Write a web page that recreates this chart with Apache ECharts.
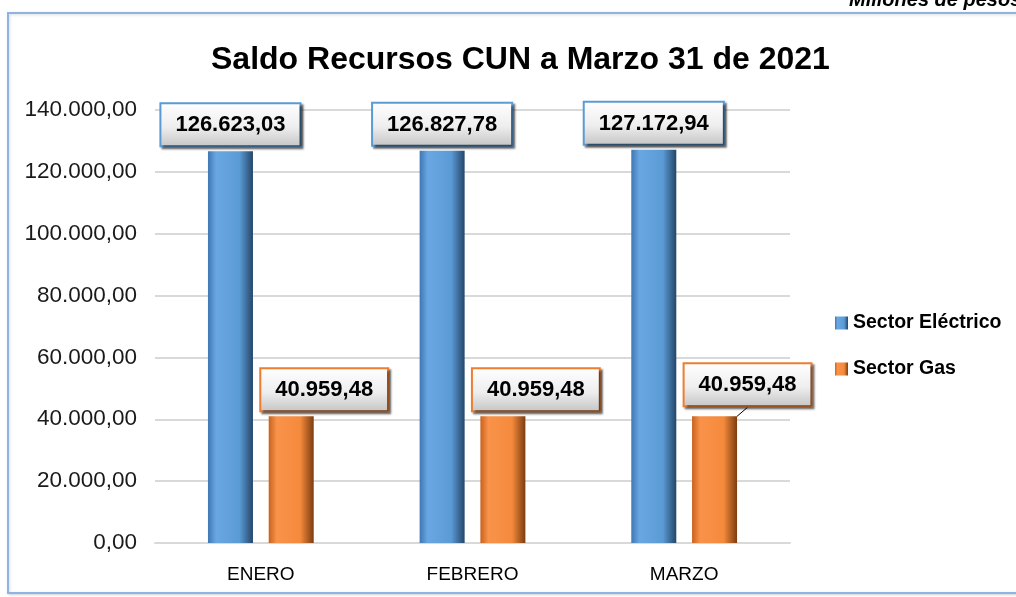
<!DOCTYPE html>
<html>
<head>
<meta charset="utf-8">
<script src="https://cdn.jsdelivr.net/npm/echarts@6/dist/echarts.min.js"></script>
<style>
  html, body { margin: 0; padding: 0; background: #fff; }
  #chart { width: 1016px; height: 597px; }
</style>
</head>
<body>
<div id="chart"></div>
<script>
var months = ['ENERO', 'FEBRERO', 'MARZO'];
var sectorElectrico = [126623.03, 126827.78, 127172.94];
var sectorGas = [40959.48, 40959.48, 40959.48];
var yTicks = [0, 20000, 40000, 60000, 80000, 100000, 120000, 140000];

var FONT = '"Liberation Sans", Arial, sans-serif';

function fmtEs(v) {
    var parts = v.toFixed(2).split('.');
    parts[0] = parts[0].replace(/\B(?=(\d{3})+(?!\d))/g, '.');
    return parts[0] + ',' + parts[1];
}

function barGradient(c0, c1, c2, c3) {
    return {
        type: 'linear', x: 0, y: 0, x2: 1, y2: 0,
        colorStops: [
            { offset: 0, color: c0 },
            { offset: 0.18, color: c1 },
            { offset: 0.7, color: c2 },
            { offset: 1, color: c3 }
        ]
    };
}

var labelBg = {
    type: 'linear', x: 0, y: 0, x2: 0, y2: 1,
    colorStops: [
        { offset: 0, color: '#ffffff' },
        { offset: 0.55, color: '#eeeeee' },
        { offset: 1, color: '#c4c4c4' }
    ]
};

function boxLabel(border) {
    return {
        show: true,
        position: 'top',
        distance: 6,
        formatter: function(p) { return fmtEs(p.value); },
        fontFamily: FONT,
        fontSize: 22,
        fontWeight: 'bold',
        color: '#000',
        backgroundColor: labelBg,
        borderColor: border,
        borderWidth: 2,
        padding: [10, 14, 9, 14],
        shadowColor: 'rgba(0,0,0,0.55)',
        shadowBlur: 2,
        shadowOffsetX: 2,
        shadowOffsetY: 2
    };
}

var gasData = sectorGas.map(function(v, i) {
    if (i === 2) return { value: v, labelLine: { show: true, lineStyle: { color: '#000', width: 1 } } };
    return v;
});

var chart = echarts.init(document.getElementById('chart'));
chart.setOption({
    animation: false,
    graphic: [
        {
            type: 'rect',
            shape: { x: 8, y: 13, width: 1020, height: 580 },
            style: { fill: '#fff', stroke: '#8db4e2', lineWidth: 2, shadowColor: 'rgba(0,0,0,0.15)', shadowBlur: 3, shadowOffsetX: 1, shadowOffsetY: 1 },
            z: -10
        },
        {
            type: 'text',
            x: 849, y: 0,
            style: { text: 'Millones de pesos', font: 'italic bold 20px ' + FONT, fill: '#000', verticalAlign: 'middle' }
        }
    ],
    title: {
        text: 'Saldo Recursos CUN a Marzo 31 de 2021',
        left: 206,
        top: 39,
        textStyle: { fontFamily: FONT, fontSize: 32, fontWeight: 'bold', color: '#000' }
    },
    legend: {
        orient: 'vertical',
        left: 830,
        top: 308,
        itemWidth: 13,
        itemHeight: 13,
        itemGap: 26,
        icon: 'rect',
        textStyle: { fontFamily: FONT, fontSize: 19.5, fontWeight: 'bold', color: '#000' },
        data: ['Sector Eléctrico', 'Sector Gas']
    },
    grid: { left: 155, right: 226, top: 110, bottom: 54 },
    xAxis: {
        type: 'category',
        data: months,
        axisLine: { show: true, lineStyle: { color: '#d9d9d9', width: 2 } },
        axisTick: { show: false },
        axisLabel: { fontFamily: FONT, fontSize: 19, color: '#000', margin: 22 }
    },
    yAxis: {
        type: 'value',
        min: yTicks[0],
        max: yTicks[yTicks.length - 1],
        interval: yTicks[1] - yTicks[0],
        axisLine: { show: false },
        axisTick: { show: false },
        splitLine: { lineStyle: { color: '#d9d9d9', width: 2 } },
        axisLabel: { fontFamily: FONT, fontSize: 22.5, color: '#1a1a1a', margin: 18, formatter: fmtEs }
    },
    series: [
        {
            name: 'Sector Eléctrico',
            type: 'bar',
            data: sectorElectrico,
            barWidth: 45,
            barGap: '35%',
            itemStyle: { color: barGradient('#3f77b3', '#69a7e2', '#5b9bd5', '#24466a') },
            label: boxLabel('#5b9bd5')
        },
        {
            name: 'Sector Gas',
            type: 'bar',
            data: gasData,
            barWidth: 45,
            itemStyle: { color: barGradient('#c9621c', '#f9924a', '#f58a3c', '#7c3d10') },
            label: boxLabel('#ed7d31'),
            labelLine: { show: false },
            labelLayout: function(p) {
                return { dx: 33, dy: p.dataIndex === 2 ? -5 : 0 };
            }
        }
    ],
    color: ['#5b9bd5', '#ed7d31']
});
</script>
</body>
</html>
